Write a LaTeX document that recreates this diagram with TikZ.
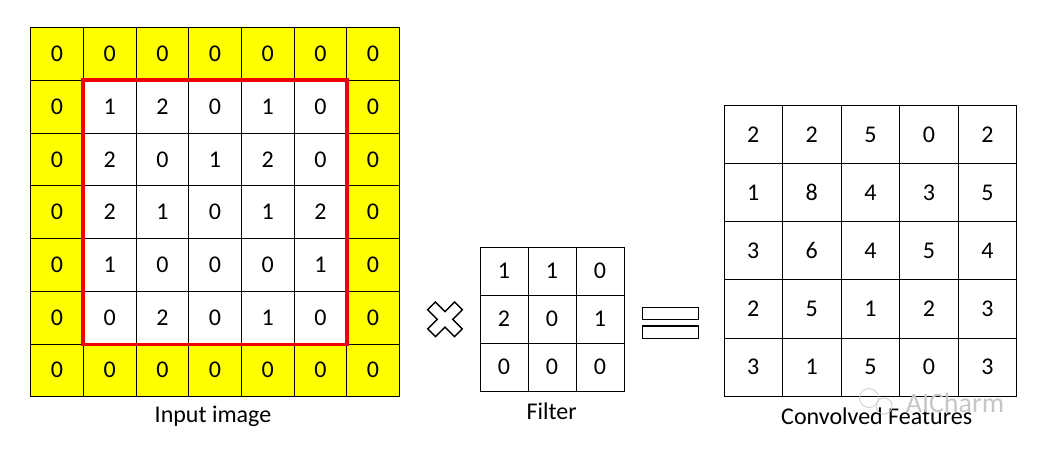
\documentclass[tikz,border=0pt]{standalone}
\usepackage{fontspec}
\setmainfont{Carlito}
\usepackage{xcolor}
\usetikzlibrary{positioning}
\definecolor{padyellow}{RGB}{255,255,0}
\definecolor{boxred}{RGB}{240,0,0}
\tikzstyle{none}=[inner sep=0mm]
\tikzstyle{cell}=[draw=black,line width=0.8pt,inner sep=0pt,font=\fontsize{24}{26}\selectfont]
\tikzstyle{incell}=[cell,minimum width=52.66pt,minimum height=52.7pt]
\tikzstyle{fcell}=[cell,minimum width=48pt,minimum height=47.9pt]
\tikzstyle{outcell}=[cell,minimum width=58.54pt,minimum height=58.06pt]
\tikzstyle{caption}=[none,font=\fontsize{24}{26}\selectfont]
\tikzstyle{redbox}=[draw=boxred,line width=3.4pt]
\tikzstyle{symbol}=[draw=black,line width=1.4pt,line join=miter]
\tikzstyle{wmark}=[draw=gray!40,line width=0.8pt]

\begin{document}
\begin{tikzpicture}[x=1pt,y=1pt]
	\useasboundingbox (0,0) rectangle (1040,448);
	% input image with zero padding
	\fill[padyellow] (30.7,420.3) rectangle (399.3,51.3);
	\fill[white] (83.4,367.6) rectangle (346.7,104.1);
	\foreach \row [count=\r from 0] in {{0,0,0,0,0,0,0},{0,1,2,0,1,0,0},{0,2,0,1,2,0,0},{0,2,1,0,1,2,0},{0,1,0,0,0,1,0},{0,0,2,0,1,0,0},{0,0,0,0,0,0,0}}
		\foreach \v [count=\c from 0] in \row
			\node [style=incell] (in-\r-\c) at ({30.7+52.66*(\c+0.5)},{420.3-52.7*(\r+0.5)}) {\v};
	\draw [style=redbox] (in-1-1.north west) rectangle (in-5-5.south east);
	\node [style=caption] (in-label) at (213,31.3) {Input image};
	% filter
	\foreach \row [count=\r from 0] in {{1,1,0},{2,0,1},{0,0,0}}
		\foreach \v [count=\c from 0] in \row
			\node [style=fcell] (f-\r-\c) at ({480+48*(\c+0.5)},{200.7-47.9*(\r+0.5)}) {\v};
	\node [style=caption] (f-label) at (551.7,36.3) {Filter};
	% times and equals
	\begin{scope}[shift={(445,128.7)},rotate=45]
		\draw [style=symbol] (-5.5,19) -- (5.5,19) -- (5.5,5.5) -- (19,5.5) -- (19,-5.5) -- (5.5,-5.5) -- (5.5,-19) -- (-5.5,-19) -- (-5.5,-5.5) -- (-19,-5.5) -- (-19,5.5) -- (-5.5,5.5) -- cycle;
	\end{scope}
	\draw [style=symbol] (642.7,140.7) rectangle (698.3,128.7);
	\draw [style=symbol] (642.7,122) rectangle (698.3,109.7);
	% convolved features
	\foreach \row [count=\r from 0] in {{2,2,5,0,2},{1,8,4,3,5},{3,6,4,5,4},{2,5,1,2,3},{3,1,5,0,3}}
		\foreach \v [count=\c from 0] in \row
			\node [style=outcell] (out-\r-\c) at ({724+58.54*(\c+0.5)},{342.3-58.06*(\r+0.5)}) {\v};
	\node [style=caption] (out-label) at (876.7,31.3) {Convolved Features};
	% watermark
	\draw [style=wmark] (869,50) circle (9.5);
	\draw [style=wmark] (884,42) circle (8);
	\node [style=none,text=gray!45,font=\fontsize{28}{30}\selectfont] (wm) at (955,45) {AICharm};
\end{tikzpicture}
\end{document}
